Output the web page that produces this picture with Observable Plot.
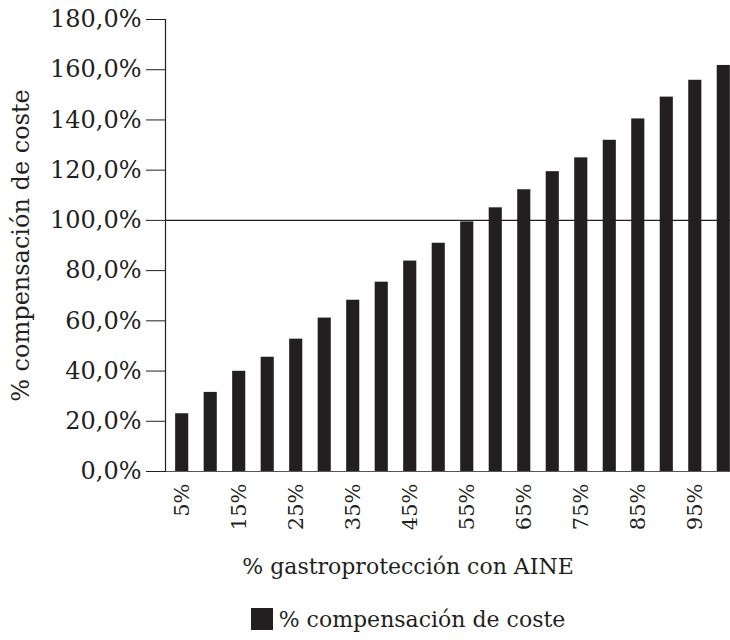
<!DOCTYPE html>
<html>
<head>
<meta charset="utf-8">
<script src="https://cdn.jsdelivr.net/npm/d3@7"></script>
<script src="https://cdn.jsdelivr.net/npm/@observablehq/plot@0.6"></script>
<style>
  html, body { margin: 0; padding: 0; background: #fff; overflow: hidden; }
  body { width: 730px; height: 640px; position: relative; font-family: "DejaVu Serif", serif; color: #231f20; }
  #chart svg { display: block; overflow: hidden; }
  .below { position: absolute; left: 0; width: 816px; text-align: center; }
  #xtitle { top: 540px; height: 54px; line-height: 54px; font-size: 22px; }
  #legend { top: 594px; height: 50px; display: flex; justify-content: center; align-items: center; font-size: 22px; }
  #legend .sw { width: 22px; height: 22px; background: #231f20; margin-right: 6px; }
</style>
</head>
<body>
<div id="chart"></div>
<div id="xtitle" class="below">% gastroprotección con AINE</div>
<div id="legend" class="below"><span class="sw"></span><span>% compensación de coste</span></div>
<script>
const categories = ["5%","10%","15%","20%","25%","30%","35%","40%","45%","50%","55%","60%","65%","70%","75%","80%","85%","90%","95%","100%"];
const values = [23.0, 31.5, 39.9, 45.5, 52.7, 61.1, 68.2, 75.4, 83.8, 90.9, 99.4, 105.0, 112.2, 119.4, 124.9, 131.9, 140.4, 149.1, 155.8, 161.7];
const xTickLabels = ["5%","15%","25%","35%","45%","55%","65%","75%","85%","95%"];
const yTicks = [0,20,40,60,80,100,120,140,160,180];
const refLine = [100];

const data = categories.map((c, i) => ({cat: c, value: values[i]}));
const ink = "#231f20";

const chart = Plot.plot({
  width: 730,
  height: 540,
  marginTop: 19,
  marginBottom: 69,
  marginLeft: 165,
  marginRight: 0,
  style: {fontFamily: "DejaVu Serif, serif", color: ink, background: "white"},
  x: {domain: categories, range: [165, 740], paddingInner: 0.54, paddingOuter: 0.356, round: false},
  y: {domain: [0, 180]},
  marks: [
    Plot.barY(data, {x: "cat", y: "value", fill: ink}),
    Plot.ruleY(refLine, {stroke: ink, strokeWidth: 1.2}),
    Plot.ruleY([0], {stroke: "#555", strokeWidth: 1.2}),
    Plot.frame({anchor: "left", stroke: ink, strokeWidth: 1.2}),
    Plot.axisY({
      ticks: yTicks,
      tickSize: 19,
      tickPadding: 5,
      tickFormat: d => d.toFixed(1).replace(".", ",") + "%",
      fontSize: 24,
      label: "% compensación de coste",
      labelAnchor: "center",
      labelArrow: "none",
      labelOffset: 154,
      stroke: ink
    }),
    Plot.axisX({
      ticks: xTickLabels,
      tickSize: 0,
      tickPadding: 12,
      tickRotate: -90,
      fontSize: 21,
      label: null
    })
  ]
});
chart.querySelectorAll("text").forEach(t => t.setAttribute("fill", ink));
document.getElementById("chart").appendChild(chart);
</script>
</body>
</html>
